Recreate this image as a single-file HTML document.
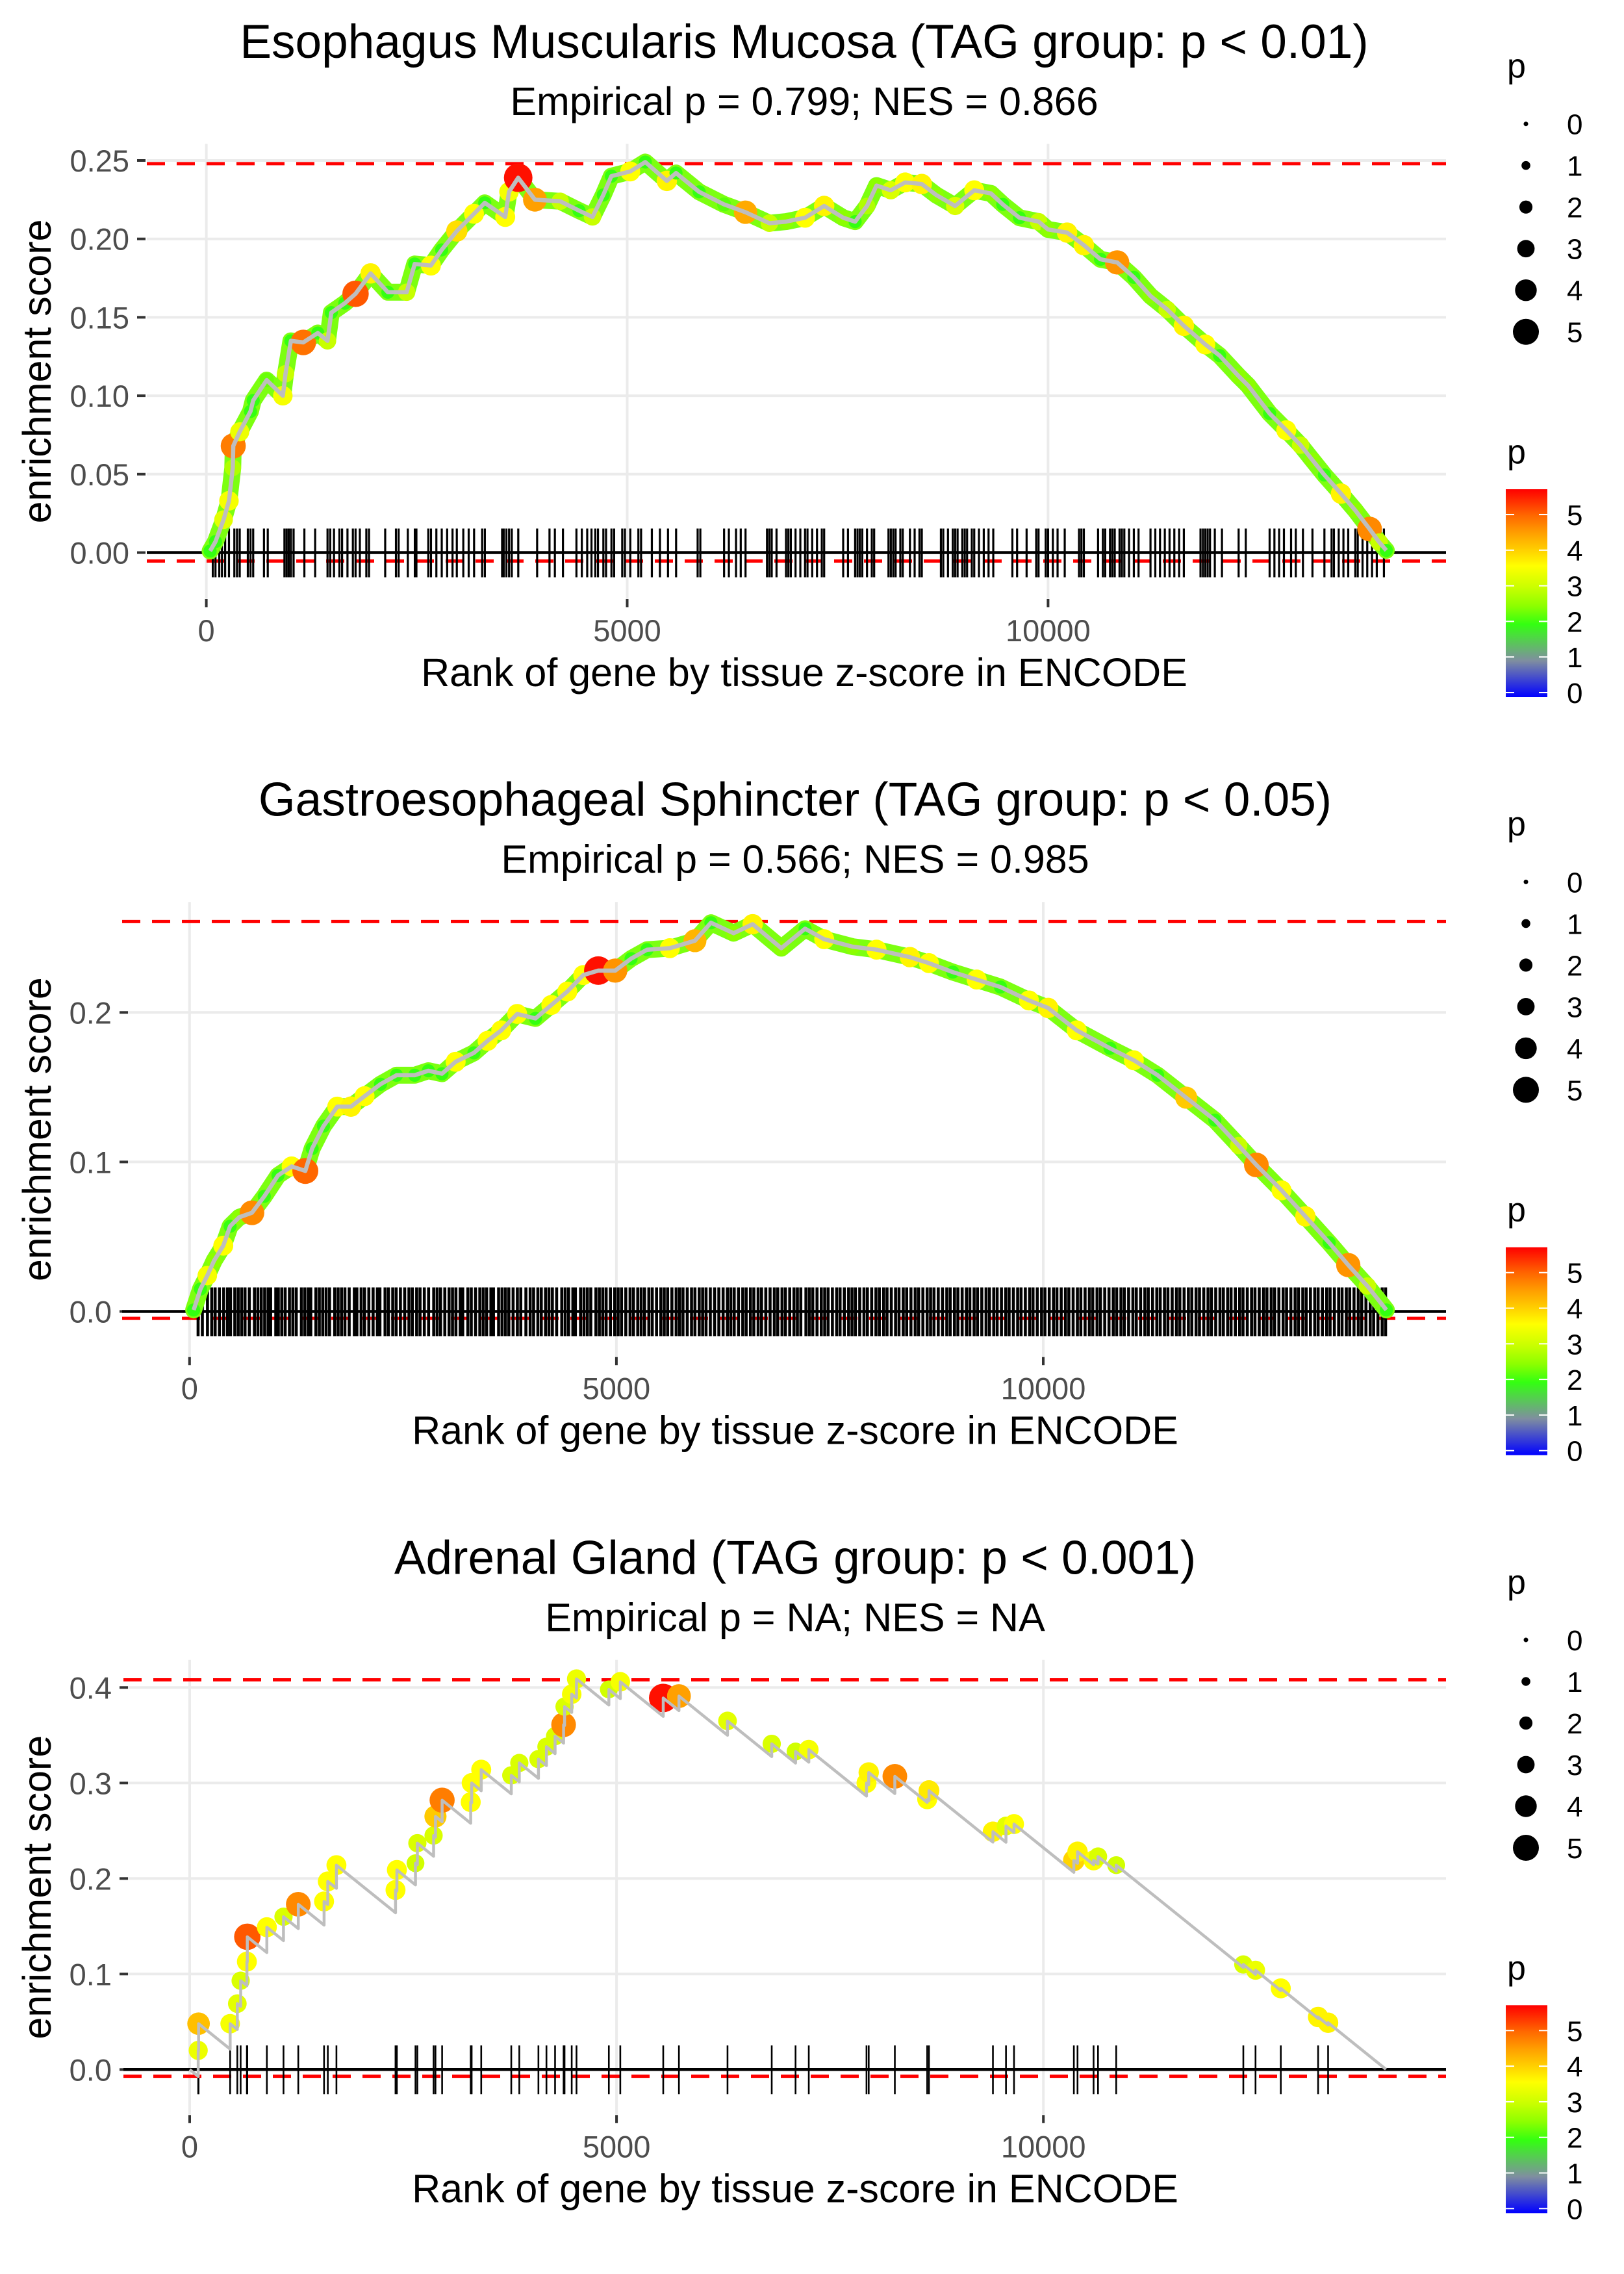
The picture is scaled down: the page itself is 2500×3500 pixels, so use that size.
<!DOCTYPE html>
<html><head><meta charset="utf-8"><title>Enrichment plots</title>
<style>
html,body{margin:0;padding:0;background:#fff;}
svg{display:block;font-family:"Liberation Sans",Arial,sans-serif;}
</style></head>
<body>
<svg id="chart" xmlns="http://www.w3.org/2000/svg" width="2500" height="3500" viewBox="0 0 2500 3500">
<defs>
<linearGradient id="pgrad" x1="0" y1="1" x2="0" y2="0"></linearGradient>
</defs>
<rect x="0" y="0" width="2500" height="3500" fill="#fff"/>
</svg>
<script>
// ---------- data: panel 1 (Esophagus Muscularis Mucosa) ----------
const p1Ranks = [45,109,205,269,314,320,397,525,557,717,909,941,1005,1152,1325,1440,1485,1645,1773,1952,2157,2380,2476,2668,2796,2976,3180,3308,3551,3596,3705,3904,4204,4428,4588,4716,4812,5036,5215,5471,5580,5855,6151,6406,6689,6887,7113,7340,7566,7708,7849,7962,8132,8302,8500,8670,8896,9123,9321,9462,9660,9887,10000,10226,10425,10623,10821,11019,11217,11415,11613,11868,12038,12264,12377,12632,12830,13000,13141,13283,13480,13650,13820,13933,14018];
const p1Scores = [0.001,0.007,0.021,0.033,0.054,0.068,0.077,0.090,0.097,0.110,0.100,0.114,0.135,0.134,0.140,0.135,0.153,0.159,0.165,0.178,0.166,0.166,0.184,0.183,0.193,0.205,0.216,0.223,0.214,0.230,0.239,0.225,0.224,0.218,0.214,0.228,0.240,0.243,0.249,0.237,0.242,0.230,0.222,0.217,0.210,0.211,0.2135,0.221,0.2135,0.211,0.221,0.234,0.231,0.236,0.235,0.228,0.221,0.231,0.229,0.222,0.2135,0.211,0.206,0.204,0.196,0.187,0.185,0.1755,0.1636,0.155,0.1446,0.1327,0.1256,0.1125,0.1065,0.0887,0.078,0.0685,0.059,0.0495,0.0376,0.0269,0.015,0.0067,0.0014];
const p1P = [2,2,3.3,3.5,2.8,4.8,3.4,2,2,2.3,3.5,3,2,4.9,2,3,2,2,5.1,3.7,2,3,2,3.6,2,3.9,3.6,2,3.6,3.5,5.6,4.5,3,2,3,2,2,3.6,2,3.7,2,2,2.2,4.4,3,2.5,3.6,3.7,2.5,2,2.8,2.5,3.2,3.6,3.7,2.5,3.2,3.6,2.5,2,2,3,2.5,3.7,3.7,2,4.6,2,2.5,3,3.7,3.6,2,2.5,2.5,2,3.6,3,2.5,2,3.7,2.5,4.7,3,2];
const p1Rug = [77,109,154,186,224,269,333,365,397,493,525,557,685,730,928,954,979,1005,1037,1165,1293,1440,1472,1517,1581,1613,1677,1741,1773,1824,1901,1933,2125,2253,2285,2394,2477,2496,2637,2669,2733,2797,2861,2925,2976,3053,3117,3181,3277,3309,3514,3533,3565,3597,3629,3706,3930,4077,4141,4237,4397,4461,4525,4576,4621,4653,4717,4749,4813,4845,4941,4973,5037,5133,5165,5293,5389,5485,5581,5837,5869,6151,6208,6293,6349,6406,6661,6689,6717,6774,6887,6915,6944,7000,7057,7113,7142,7198,7255,7312,7340,7566,7623,7708,7736,7764,7793,7849,7906,7934,8104,8132,8161,8189,8245,8274,8359,8415,8472,8500,8727,8755,8811,8868,8896,8925,8981,9010,9038,9094,9123,9179,9236,9293,9349,9576,9632,9745,9859,9887,9972,10000,10057,10113,10198,10368,10396,10425,10594,10651,10679,10736,10764,10792,10849,10877,10906,10962,11019,11075,11217,11274,11330,11387,11443,11500,11557,11613,11811,11840,11868,11896,11924,11981,12066,12264,12349,12632,12689,12745,12802,12887,12943,13028,13141,13283,13368,13396,13453,13509,13566,13650,13679,13736,13792,13849,13905,13990];

// ---------- data: panel 2 (Gastroesophageal Sphincter) ----------
const p2Ranks = [48,128,208,288,395,475,582,731,875,1036,1196,1356,1436,1569,1730,1890,2050,2237,2424,2637,2797,2957,3117,3331,3491,3651,3838,4052,4238,4425,4612,4788,4986,5172,5359,5626,5920,6107,6373,6596,6931,7210,7434,7768,8047,8438,8661,8940,9220,9499,9833,10057,10392,10782,11061,11340,11675,12010,12289,12496,12791,13070,13349,13573,13796,14019];
const p2Scores = [0.001,0.015,0.024,0.034,0.044,0.057,0.063,0.066,0.077,0.091,0.097,0.094,0.109,0.124,0.137,0.137,0.144,0.152,0.158,0.158,0.161,0.159,0.167,0.173,0.181,0.188,0.199,0.196,0.205,0.214,0.225,0.228,0.228,0.236,0.242,0.243,0.248,0.260,0.253,0.259,0.243,0.256,0.249,0.244,0.242,0.237,0.233,0.227,0.222,0.217,0.208,0.203,0.188,0.176,0.168,0.158,0.143,0.128,0.111,0.098,0.081,0.0636,0.046,0.031,0.017,0.001];
const p2P = [2,2,3.5,2.5,3.6,2,2.5,4.7,2,2,3.6,5,2,2,3.6,3.7,3.6,2,2,2,2,2,3.6,2,3.6,3.6,3.6,2,3.6,3.6,3.6,5.6,4.6,2,2,3.6,4.3,2,2.5,3.7,2.5,2,3.6,2.5,3.6,3.7,3.6,2,3.6,2,3.6,3.7,3.6,2,3.6,2,4.1,2,3,4.7,3.6,3.7,2,4.6,3,2];
const p2Rug = [100,150,210,260,300,350,400,445,480,530,570,610,650,700,760,800,840,880,920,950,1010,1040,1080,1120,1170,1210,1250,1310,1350,1390,1420,1480,1520,1560,1600,1640,1700,1740,1780,1820,1870,1930,1960,2010,2050,2100,2150,2200,2230,2290,2330,2380,2420,2470,2520,2570,2610,2660,2700,2750,2800,2860,2900,2940,2990,3040,3080,3120,3170,3200,3260,3300,3350,3400,3440,3480,3530,3560,3620,3660,3700,3740,3790,3840,3880,3940,3990,4030,4080,4120,4170,4210,4250,4300,4360,4400,4440,4490,4520,4580,4620,4660,4700,4760,4800,4840,4880,4930,4980,5020,5060,5110,5160,5200,5250,5290,5330,5380,5420,5470,5520,5560,5600,5650,5700,5740,5780,5830,5880,5920,5970,6010,6050,6100,6150,6200,6250,6300,6340,6380,6430,6480,6520,6570,6610,6660,6700,6750,6800,6850,6890,6940,6980,7030,7080,7120,7160,7220,7260,7300,7350,7400,7440,7480,7530,7580,7620,7670,7720,7760,7800,7850,7900,7940,7990,8040,8080,8130,8170,8220,8270,8310,8360,8400,8450,8500,8540,8590,8640,8680,8720,8770,8820,8870,8910,8960,9000,9050,9100,9140,9190,9230,9280,9330,9370,9420,9460,9510,9560,9600,9650,9700,9740,9790,9840,9880,9930,9980,10020,10070,10120,10160,10210,10260,10300,10350,10400,10440,10490,10540,10580,10630,10670,10720,10770,10820,10860,10910,10950,11000,11050,11090,11140,11190,11230,11280,11330,11370,11420,11460,11510,11560,11600,11650,11700,11740,11790,11830,11880,11930,11970,12020,12070,12110,12160,12200,12250,12300,12340,12390,12440,12480,12530,12580,12620,12670,12710,12760,12810,12850,12900,12950,12990,13040,13080,13130,13180,13220,13270,13320,13360,13410,13460,13500,13550,13590,13640,13690,13730,13780,13830,13870,13920,13970,14010];

// ---------- data: panel 3 (Adrenal Gland) ----------
const p3Ranks = [100,104,474,558,597,670,675,904,1099,1272,1574,1618,1719,2411,2427,2645,2667,2857,2879,2957,3292,3303,3415,3767,3861,4085,4179,4280,4380,4391,4475,4531,4910,5044,5547,5731,6300,6818,7097,7252,7928,7954,8260,8639,8660,9409,9562,9656,10357,10400,10588,10640,10853,12342,12485,12781,13218,13335];
const p3Scores = [0.020,0.048,0.048,0.069,0.093,0.113,0.139,0.149,0.160,0.173,0.176,0.197,0.214,0.188,0.209,0.216,0.237,0.245,0.265,0.282,0.280,0.300,0.314,0.308,0.321,0.325,0.338,0.349,0.361,0.380,0.393,0.409,0.398,0.406,0.389,0.391,0.365,0.341,0.333,0.335,0.300,0.311,0.307,0.283,0.292,0.249,0.255,0.257,0.219,0.228,0.219,0.223,0.214,0.110,0.104,0.085,0.055,0.049];
const p3P = [3.4,4.2,3.5,3.3,3.2,3.6,5.1,3.6,3.2,4.7,3.6,3.6,3.6,3.6,3.6,3.1,3.2,3.2,4.1,4.8,3.6,3.6,3.6,3.2,3.2,3.2,3.2,3.2,4.7,3.2,3.5,3.4,3.1,3.5,5.6,4.5,3.3,3.2,3.1,3.5,3.6,3.7,4.7,3.6,3.8,3.7,3.3,3.6,4.0,3.7,3.6,3.2,3.1,3.2,3.4,3.6,3.7,3.7];
const p3MissDecay = 0.000072;
const p3TotalGenes = 14012;

// ---------- labels ----------
const titles = ["Esophagus Muscularis Mucosa (TAG group: p < 0.01)","Gastroesophageal Sphincter (TAG group: p < 0.05)","Adrenal Gland (TAG group: p < 0.001)"];
const subtitles = ["Empirical p = 0.799; NES = 0.866","Empirical p = 0.566; NES = 0.985","Empirical p = NA; NES = NA"];
const xTicks = [0,5000,10000];
const xTickLabels = ["0","5000","10000"];
const p1YTicks = [0,0.05,0.10,0.15,0.20,0.25];
const p1YTickLabels = ["0.00","0.05","0.10","0.15","0.20","0.25"];
const p2YTicks = [0,0.1,0.2];
const p2YTickLabels = ["0.0","0.1","0.2"];
const p3YTicks = [0,0.1,0.2,0.3,0.4];
const p3YTickLabels = ["0.0","0.1","0.2","0.3","0.4"];
const p1Bounds = [0.248,-0.0054];
const p2Bounds = [0.2608,-0.0046];
const p3Bounds = [0.408,-0.0070];
const legendSizes = [0,1,2,3,4,5];
const colorTicks = [0,1,2,3,4,5];
const colorStopP = [0,1,2,2.5,3,3.6,4.0,4.5,5.0,5.71];
const colorStopC = ["#0000ff","#7f8ea0","#33ff11","#8cff00","#c8ff00","#ffff00","#ffd400","#ffa000","#ff6600","#ff0000"];

// ---------- helpers ----------
const NS = "http://www.w3.org/2000/svg";
const svg = document.getElementById("chart");
function mk(tag, attrs, parent){
  const e = document.createElementNS(NS, tag);
  for (const k in attrs) e.setAttribute(k, attrs[k]);
  (parent||svg).appendChild(e);
  return e;
}
function hex2rgb(h){return [parseInt(h.substr(1,2),16),parseInt(h.substr(3,2),16),parseInt(h.substr(5,2),16)];}
function pColor(p){
  if (p<=colorStopP[0]) return colorStopC[0];
  for (let i=1;i<colorStopP.length;i++){
    if (p<=colorStopP[i]){
      const t=(p-colorStopP[i-1])/(colorStopP[i]-colorStopP[i-1]);
      const a=hex2rgb(colorStopC[i-1]), b=hex2rgb(colorStopC[i]);
      return "rgb("+a.map((v,j)=>Math.round(v+(b[j]-v)*t)).join(",")+")";
    }
  }
  return colorStopC[colorStopC.length-1];
}
function pRadius(p){ return 3.5 + 3.3*p; }

const grad = document.getElementById("pgrad");
colorStopP.forEach((p,i)=>{
  const s = document.createElementNS(NS,"stop");
  s.setAttribute("offset", (p/5.71*100).toFixed(2)+"%");
  s.setAttribute("stop-color", colorStopC[i]);
  grad.appendChild(s);
});

const panels = [
  {off:0, left:226, right:2226, x0:317.6, xs:0.12958, y0:850.5, ys:2414, ranks:p1Ranks, scores:p1Scores, ps:p1P, rug:p1Rug, rugW:3.2, yt:p1YTicks, ytl:p1YTickLabels, bounds:p1Bounds, labelRight:199, tickX:[211,224], titleX:1238, saw:false},
  {off:1166.7, left:188, right:2226, x0:291.8, xs:0.13142, y0:2018.5-1166.7, ys:2301, ranks:p2Ranks, scores:p2Scores, ps:p2P, rug:p2Rug, rugW:4.6, yt:p2YTicks, ytl:p2YTickLabels, bounds:p2Bounds, labelRight:172, tickX:[184,197], titleX:1224, saw:false},
  {off:2333.3, left:190, right:2226, x0:292, xs:0.13142, y0:3185.3-2333.3, ys:1470, ranks:p3Ranks, scores:p3Scores, ps:p3P, rug:p3Ranks, rugW:2.6, yt:p3YTicks, ytl:p3YTickLabels, bounds:p3Bounds, labelRight:172, tickX:[184,197], titleX:1224, saw:true}
];

panels.forEach((P, k)=>{
  const top = 221.5 + P.off, bot = 921.5 + P.off;
  const X = r => P.x0 + r*P.xs;
  const Y = v => P.y0 + P.off - v*P.ys;
  const g = mk("g", {});
  
  

  const t = mk("text", {x:P.titleX, y:89+P.off, "text-anchor":"middle", "font-size":73, fill:"#000"}, g);
  t.textContent = titles[k];
  
  
  const st = mk("text", {x:P.titleX, y:177+P.off, "text-anchor":"middle", "font-size":61, fill:"#000"}, g);
  st.textContent = subtitles[k];
  
  

  P.yt.forEach((v,i)=>{
    const gl = mk("line",{x1:P.left,x2:P.right,y1:Y(v),y2:Y(v),stroke:"#ebebeb","stroke-width":4},g);
    
    
    const tk = mk("line",{x1:P.tickX[0],x2:P.tickX[1],y1:Y(v),y2:Y(v),stroke:"#333","stroke-width":4},g);
    
    
    const tl = mk("text",{x:P.labelRight,y:Y(v)+17,"text-anchor":"end","font-size":47,fill:"#4d4d4d"},g);
    tl.textContent = P.ytl[i];
    
    
  });
  xTicks.forEach((v,i)=>{
    const gl = mk("line",{x1:X(v),x2:X(v),y1:top,y2:bot,stroke:"#ebebeb","stroke-width":4},g);
    
    
    const tk = mk("line",{x1:X(v),x2:X(v),y1:bot+0.5,y2:bot+13,stroke:"#333","stroke-width":4},g);
    
    
    const tl = mk("text",{x:X(v),y:987+P.off,"text-anchor":"middle","font-size":47,fill:"#4d4d4d"},g);
    tl.textContent = xTickLabels[i];
    
    
  });

  const xt = mk("text",{x:P.titleX,y:1056+P.off,"text-anchor":"middle","font-size":61,fill:"#000"},g);
  xt.textContent = "Rank of gene by tissue z-score in ENCODE";
  
  
  const cy = (top+bot)/2;
  const yt = mk("text",{x:0,y:0,"text-anchor":"middle","font-size":61,fill:"#000",transform:"translate(78,"+cy+") rotate(-90)"},g);
  yt.textContent = "enrichment score";
  
  

  P.bounds.forEach(b=>{
    const dl = mk("line",{x1:P.left,x2:P.right,y1:Y(b),y2:Y(b),stroke:"#ff0000","stroke-width":5,"stroke-dasharray":"28 18"},g);
    
    
  });

  const rugTop = Y(0) - 37, rugBot = Y(0) + 38;
  P.rug.forEach(r=>{
    const rl = mk("line",{x1:X(r),x2:X(r),y1:rugTop,y2:rugBot,stroke:"#000","stroke-width":P.rugW},g);
    
    
  });

  const zl = mk("line",{x1:P.left,x2:P.right,y1:Y(0),y2:Y(0),stroke:"#000","stroke-width":4.5},g);
  
  

  let pts = [];
  if (P.saw){
    pts.push([X(0),Y(0)]);
    let prevR = 0, prevS = 0;
    P.ranks.forEach((r,i)=>{
      const valley = prevS - p3MissDecay*(r-prevR);
      pts.push([X(r),Y(valley)]);
      pts.push([X(r),Y(P.scores[i])]);
      prevR = r; prevS = P.scores[i];
    });
    const endS = Math.max(0, prevS - p3MissDecay*(p3TotalGenes-prevR));
    pts.push([X(p3TotalGenes),Y(endS)]);
  } else {
    P.ranks.forEach((r,i)=>pts.push([X(r),Y(P.scores[i])]));
  }
  const ptsStr = pts.map(p=>p[0].toFixed(1)+","+p[1].toFixed(1)).join(" ");

  if (!P.saw){
    const band = mk("polyline",{points:ptsStr,fill:"none",stroke:"#7cff10","stroke-width":26,"stroke-linejoin":"round","stroke-linecap":"round"},g);
    
    
  }

  P.ranks.forEach((r,i)=>{
    const c = mk("circle",{cx:X(r),cy:Y(P.scores[i]),r:pRadius(P.ps[i]),fill:pColor(P.ps[i])},g);
    
    
  });

  const pl = mk("polyline",{points:ptsStr,fill:"none",stroke:"#bebebe","stroke-width":P.saw?4.5:6.5,"stroke-linejoin":"round"},g);
  
  

  const lg = mk("g",{},g);
  
  
  const lt = mk("text",{x:2320,y:119+P.off,"font-size":52,fill:"#000"},lg);
  lt.textContent = "p";
  
  
  legendSizes.forEach((s,i)=>{
    const cyL = 190.7 + i*64 + P.off;
    const d = mk("circle",{cx:2349,cy:cyL,r:pRadius(s),fill:"#000"},lg);
    
    
    const lb = mk("text",{x:2412,y:cyL+16,"font-size":44,fill:"#000"},lg);
    lb.textContent = String(s);
    
    
  });
  const cg = mk("g",{},g);
  
  
  const ct = mk("text",{x:2320,y:713+P.off,"font-size":52,fill:"#000"},cg);
  ct.textContent = "p";
  
  
  const bar = mk("rect",{x:2318,y:753+P.off,width:64,height:320,fill:"url(#pgrad)"},cg);
  
  
  colorTicks.forEach(v=>{
    const yy = 1066 + P.off - v*54.8;
    const a = mk("line",{x1:2318,x2:2331,y1:yy,y2:yy,stroke:"#fff","stroke-width":2},cg);
    
    
    const b = mk("line",{x1:2369,x2:2382,y1:yy,y2:yy,stroke:"#fff","stroke-width":2},cg);
    
    
    const lb = mk("text",{x:2412,y:yy+16,"font-size":44,fill:"#000"},cg);
    lb.textContent = String(v);
    
    
  });
});
</script>
</body></html>
